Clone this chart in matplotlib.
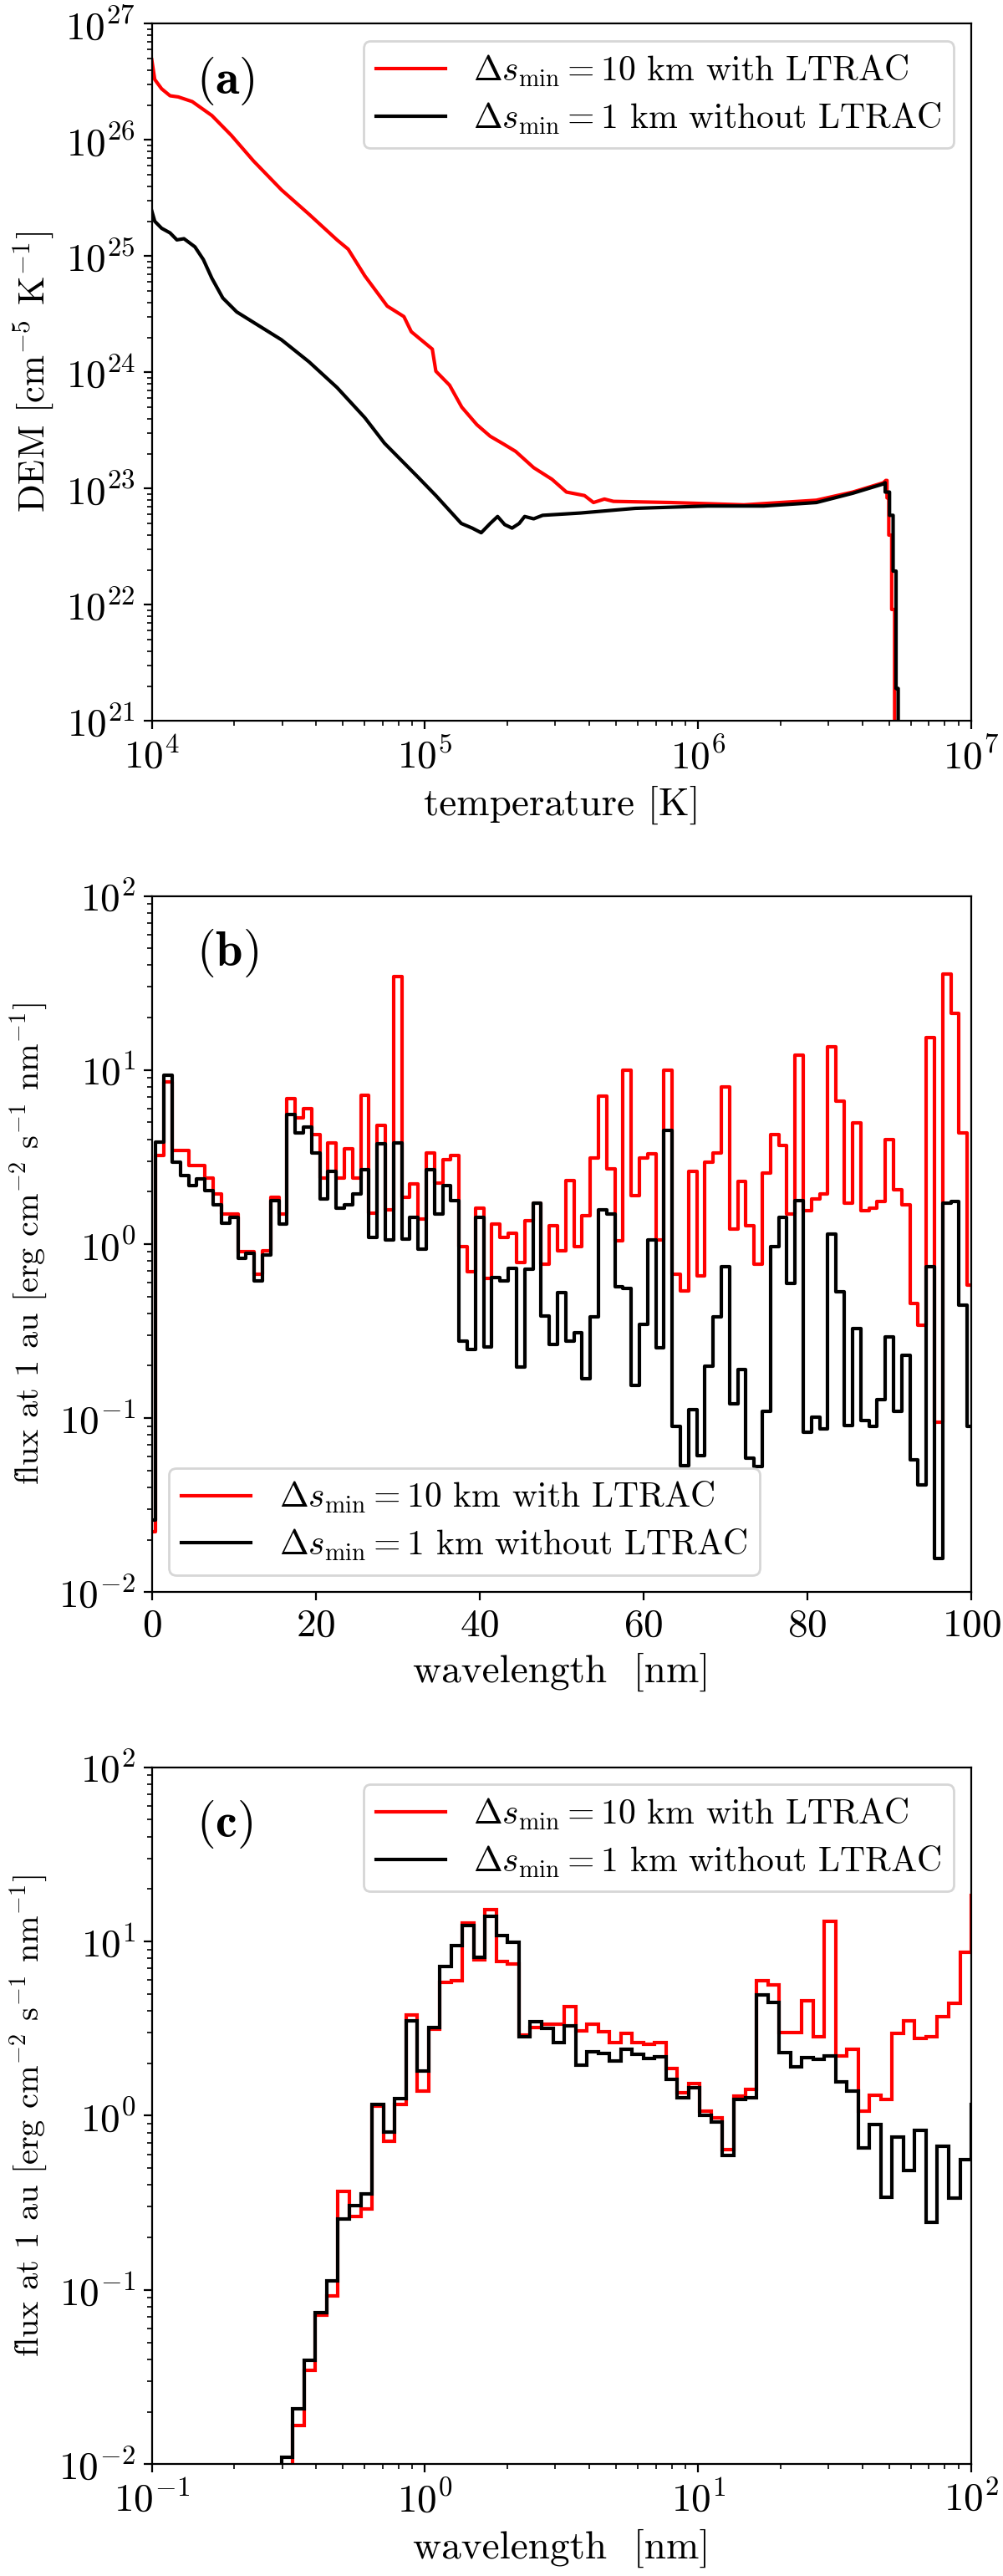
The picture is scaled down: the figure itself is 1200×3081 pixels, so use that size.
import numpy as np
import matplotlib
matplotlib.use("Agg")
import matplotlib.pyplot as plt

plt.rcParams['font.family'] = 'serif'
plt.rcParams['font.serif'] = ['cmr10', 'DejaVu Serif']
plt.rcParams['mathtext.fontset'] = 'cm'
plt.rcParams['axes.formatter.use_mathtext'] = True
plt.rcParams['font.size'] = 15
plt.rcParams['xtick.labelsize'] = 17
plt.rcParams['ytick.labelsize'] = 17
plt.rcParams['legend.fontsize'] = 15

label_red = r'$\Delta s_{\rm min} = 10$ km with LTRAC'
label_black = r'$\Delta s_{\rm min} = 1$ km without LTRAC'

# (a) DEM, log10 values
logT_red = [4.000, 4.011, 4.036, 4.067, 4.097, 4.148, 4.220, 4.291, 4.372, 4.475,
            4.576, 4.678, 4.719, 4.780, 4.862, 4.923, 4.950, 5.027, 5.040, 5.090,
            5.135, 5.190, 5.239, 5.290, 5.332, 5.398, 5.465, 5.518, 5.584, 5.617,
            5.657, 5.690, 5.902, 6.168, 6.433, 6.566, 6.678, 6.687, 6.6915, 6.6915,
            6.698, 6.698, 6.7086, 6.7086, 6.7193, 6.7193]
logD_red = [26.69, 26.52, 26.44, 26.38, 26.37, 26.33, 26.21, 26.04, 25.82, 25.57,
            25.36, 25.14, 25.06, 24.83, 24.57, 24.48, 24.35, 24.20, 24.01, 23.89,
            23.70, 23.55, 23.45, 23.38, 23.32, 23.18, 23.08, 22.97, 22.94, 22.88,
            22.91, 22.89, 22.88, 22.86, 22.90, 22.97, 23.05, 23.07, 23.07, 22.92,
            22.92, 22.60, 22.60, 21.96, 21.96, 20.0]

logT_black = [4.000, 4.011, 4.036, 4.067, 4.092, 4.118, 4.158, 4.189, 4.220, 4.260,
              4.311, 4.393, 4.475, 4.576, 4.678, 4.780, 4.852, 4.974, 5.040, 5.133,
              5.173, 5.206, 5.239, 5.266, 5.292, 5.319, 5.345, 5.365, 5.398, 5.431,
              5.570, 5.770, 6.035, 6.240, 6.433, 6.566, 6.678, 6.6847, 6.6847, 6.7006,
              6.7006, 6.7138, 6.7138, 6.7245, 6.7245, 6.7324, 6.7324]
logD_black = [25.39, 25.30, 25.24, 25.20, 25.14, 25.15, 25.08, 24.97, 24.81, 24.64,
              24.52, 24.40, 24.28, 24.09, 23.87, 23.61, 23.39, 23.10, 22.94, 22.70,
              22.66, 22.62, 22.70, 22.76, 22.69, 22.66, 22.70, 22.76, 22.74, 22.77,
              22.79, 22.83, 22.85, 22.85, 22.88, 22.96, 23.04, 23.05, 22.97, 22.97,
              22.77, 22.77, 22.29, 22.29, 21.28, 21.28, 20.0]

# (b) 1 nm bins, 0..100 nm
wl_b = np.arange(0, 101)
flux_b_red = [0.0223, 3.24, 8.59, 3.44, 3.44, 2.83, 2.83, 2.39, 1.94, 1.49,
              1.49, 0.90, 0.90, 0.675, 0.91, 1.85, 1.49, 6.87, 5.30, 6.01,
              4.24, 2.39, 3.83, 2.39, 3.54, 2.39, 7.16, 1.51, 4.79, 1.57,
              34.4, 1.86, 2.22, 1.39, 3.33, 2.25, 3.04, 3.23, 0.97, 0.695,
              1.61, 0.634, 1.31, 1.09, 1.16, 0.783, 1.37, 1.72, 0.769, 1.27,
              0.91, 2.32, 0.97, 1.46, 3.14, 7.08, 2.70, 1.04, 10.0, 1.90,
              3.14, 3.29, 1.06, 10.0, 0.674, 0.536, 2.62, 0.654, 2.95, 3.33,
              7.98, 1.22, 2.28, 1.27, 0.769, 2.57, 4.24, 3.69, 1.49, 12.2,
              1.55, 1.82, 1.94, 13.6, 6.59, 1.72, 4.99, 1.55, 1.61, 1.75,
              3.99, 2.06, 1.69, 0.455, 0.343, 15.3, 0.0949, 35.6, 21.2, 4.37,
              0.579]
flux_b_black = [0.0259, 3.87, 9.29, 2.95, 2.47, 2.18, 2.36, 2.02, 1.69, 1.32,
                1.43, 0.832, 0.883, 0.615, 0.869, 1.77, 1.31, 5.56, 4.37, 4.70,
                3.33, 1.82, 2.62, 1.61, 1.69, 1.94, 2.67, 1.09, 3.76, 1.06,
                3.83, 1.07, 1.43, 0.940, 2.67, 1.49, 2.18, 1.77, 0.276, 0.249,
                1.43, 0.257, 0.643, 0.615, 0.724, 0.196, 0.716, 1.72, 0.387, 0.265,
                0.524, 0.276, 0.308, 0.168, 0.380, 1.57, 1.49, 0.569, 0.556, 0.154,
                0.347, 1.06, 0.254, 4.50, 0.0893, 0.0535, 0.112, 0.0611, 0.199, 0.380,
                0.738, 0.121, 0.190, 0.0586, 0.0528, 0.109, 0.968, 1.42, 0.597, 1.77,
                0.0826, 0.101, 0.0867, 1.14, 0.530, 0.0910, 0.327, 0.0966, 0.0893, 0.128,
                0.293, 0.110, 0.230, 0.0575, 0.0415, 0.738, 0.0156, 1.72, 1.75, 0.447,
                0.0893]

# (c) log bins, each 1.1 times wider than the previous, last edge past 100 nm
edges_c = 100 * 1.1 ** np.arange(-62, 2)
flux_c_red = [0.004, 0.0098, 0.0167, 0.0346, 0.0716, 0.0923, 0.368, 0.264, 0.292, 1.13,
              0.716, 1.16, 3.79, 1.39, 3.13, 5.80, 5.98, 12.7, 7.85, 15.3,
              7.71, 7.38, 2.89, 3.22, 3.36, 3.36, 4.23, 3.07, 3.36, 3.03,
              2.64, 2.97, 2.64, 2.56, 2.64, 1.87, 1.35, 1.53, 1.06, 0.969,
              0.642, 1.30, 1.41, 5.98, 5.62, 3.01, 3.01, 4.55, 2.85, 13.0,
              2.20, 2.41, 1.06, 1.31, 1.24, 2.97, 3.51, 2.77, 2.83, 3.68,
              4.42, 8.70, 18.3]
flux_c_black = [0.006, 0.0109, 0.0207, 0.0395, 0.0738, 0.113, 0.256, 0.306, 0.356, 1.16,
                0.809, 1.25, 3.51, 1.80, 3.22, 7.16, 9.42, 12.4, 8.09, 14.0,
                10.8, 9.88, 2.83, 3.46, 3.16, 2.64, 3.26, 1.95, 2.33, 2.27,
                2.07, 2.41, 2.24, 2.13, 2.17, 1.62, 1.27, 1.44, 1.00, 0.923,
                0.590, 1.24, 1.27, 4.92, 4.47, 2.29, 1.91, 2.16, 2.11, 2.20,
                1.57, 1.39, 0.653, 0.885, 0.342, 0.752, 0.483, 0.819, 0.243, 0.665,
                0.336, 0.562, 1.16]

fig = plt.figure(figsize=(6, 15.405), dpi=200)
ax1 = fig.add_axes([0.1513, 0.7201, 0.8171, 0.2707])
ax2 = fig.add_axes([0.1513, 0.3819, 0.8171, 0.2703])
ax3 = fig.add_axes([0.1513, 0.0434, 0.8171, 0.2706])

lw = 1.5
ax1.plot(10**np.array(logT_red), 10**np.array(logD_red), c='red', lw=lw, label=label_red)
ax1.plot(10**np.array(logT_black), 10**np.array(logD_black), c='black', lw=lw, label=label_black)
ax1.set_xscale('log')
ax1.set_yscale('log')
ax1.set_xlim(1e4, 1e7)
ax1.set_ylim(1e21, 1e27)
ax1.set_xlabel("temperature [K]", fontsize=17)
ax1.set_ylabel(r"DEM [cm$^{-5}$ K$^{-1}$]", fontsize=16)
ax1.legend(loc='upper right', labelspacing=0.35, borderpad=0.35)

ax2.step(wl_b, flux_b_red, where='mid', c='red', lw=lw, label=label_red)
ax2.step(wl_b, flux_b_black, where='mid', c='black', lw=lw, label=label_black)
ax2.set_yscale('log')
ax2.set_xlim(0, 100)
ax2.set_ylim(1e-2, 1e2)
ax2.set_xlabel("wavelength  [nm]", fontsize=17)
ax2.set_ylabel(r"flux at 1 au [erg cm$^{-2}$ s$^{-1}$ nm$^{-1}$]", fontsize=14.5)
ax2.legend(loc='lower left', labelspacing=0.35, borderpad=0.35)

ax3.stairs(flux_c_red, edges_c, baseline=None, color='red', lw=lw, label=label_red)
ax3.stairs(flux_c_black, edges_c, baseline=None, color='black', lw=lw, label=label_black)
ax3.set_xscale('log')
ax3.set_yscale('log')
ax3.set_xlim(1e-1, 1e2)
ax3.set_ylim(1e-2, 1e2)
ax3.set_xlabel("wavelength  [nm]", fontsize=17)
ax3.set_ylabel(r"flux at 1 au [erg cm$^{-2}$ s$^{-1}$ nm$^{-1}$]", fontsize=14.5)
ax3.legend(loc='upper right', labelspacing=0.35, borderpad=0.35)

for ax, tag in zip([ax1, ax2, ax3], ['a', 'b', 'c']):
    ax.text(0.055, 0.918, r'$(\mathbf{%s})$' % tag, transform=ax.transAxes,
            fontsize=21, va='center', ha='left')

fig.savefig("out.png", dpi=200)
